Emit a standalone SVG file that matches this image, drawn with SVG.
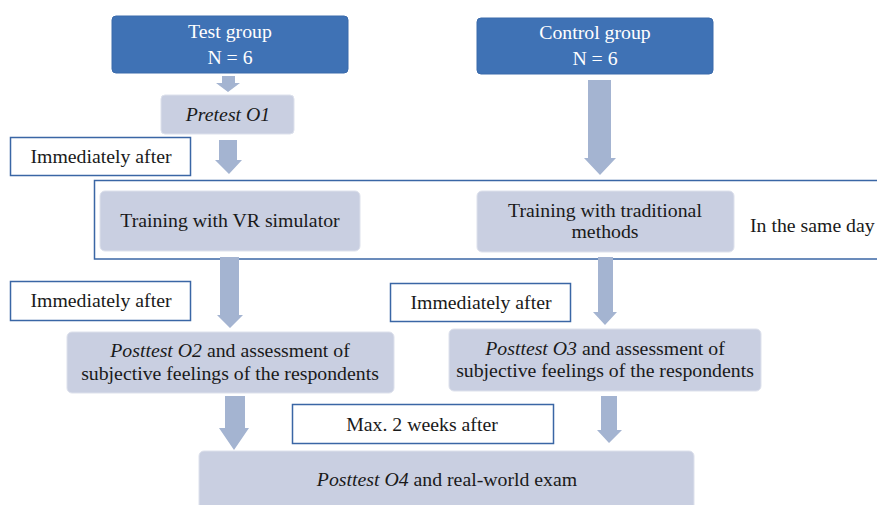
<svg xmlns="http://www.w3.org/2000/svg" width="877" height="505" viewBox="0 0 877 505">
<style>
.t{fill:#1a1a1a;text-anchor:middle}
.dark{fill:#3f72b5;stroke:#3a6aab;stroke-width:1}
.w{fill:#ffffff;text-anchor:middle}
.light{fill:#c9cfe1;stroke:#dde1ec;stroke-width:1}
.note{fill:#ffffff;stroke:#3a66a5;stroke-width:1.5}
.arr{fill:#a4b4d1}
.st{fill:#1a1a1a;text-anchor:start}
</style>
<rect x="0" y="0" width="877" height="505" fill="#ffffff"/>
<g id="container"><rect x="94.5" y="180.5" width="800" height="78.5" fill="none" stroke="#3a66a5" stroke-width="1.5"/></g>
<g id="connectors">
<polygon class="arr" points="222,76 235,76 235,83 240,83 228,92 216,83 222,83"/>
<polygon class="arr" points="219,140 237,140 237,160 242,160 229,174 215,160 219,160"/>
<polygon class="arr" points="588,80 611,80 611,158 616,158 600,175 584,158 588,158"/>
<polygon class="arr" points="220,257 239,257 239,315 243,315 230,328 217,315 220,315"/>
<polygon class="arr" points="598,257 613,257 613,312 617,312 605,325 593,312 598,312"/>
<polygon class="arr" points="225,396 245,396 245,428 249,428 234,450 219,428 225,428"/>
<polygon class="arr" points="601,396 617,396 617,430 622,430 609,443 597,430 601,430"/>
</g>
<g id="test"><rect class="dark" x="112" y="16" width="236" height="57" rx="4"/><text class="w" x="230" y="38" font-family="Liberation Serif" font-size="19.8">Test group</text><text class="w" x="230" y="64" font-family="Liberation Serif" font-size="19.8">N = 6</text></g>
<g id="control"><rect class="dark" x="477" y="18" width="236" height="56" rx="4"/><text class="w" x="595" y="39" font-family="Liberation Serif" font-size="19.8">Control group</text><text class="w" x="595" y="65" font-family="Liberation Serif" font-size="19.8">N = 6</text></g>
<g id="pretest"><rect class="light" x="161" y="95" width="133" height="39" rx="4"/><text class="t" x="228" y="121" font-family="Liberation Serif" font-size="19.8" font-style="italic">Pretest O1</text></g>
<g id="imm1"><rect class="note" x="10.5" y="137.5" width="180" height="38"/><text class="t" x="101" y="163" font-family="Liberation Serif" font-size="19.8">Immediately after</text></g>
<g id="vr"><rect class="light" x="100" y="191" width="260" height="60" rx="5"/><text class="t" x="230" y="227" font-family="Liberation Serif" font-size="19.8">Training with VR simulator</text></g>
<g id="trad"><rect class="light" x="477" y="191" width="257" height="61" rx="5"/><text class="t" x="605" y="217" font-family="Liberation Serif" font-size="19.8">Training with traditional</text><text class="t" x="605" y="238" font-family="Liberation Serif" font-size="19.8">methods</text></g>
<g id="sameday"><text class="st" x="750" y="232" font-family="Liberation Serif" font-size="19.8">In the same day</text></g>
<g id="imm2"><rect class="note" x="10.5" y="281.5" width="180" height="39"/><text class="t" x="101" y="307" font-family="Liberation Serif" font-size="19.8">Immediately after</text></g>
<g id="imm3"><rect class="note" x="390.5" y="283.5" width="180" height="38"/><text class="t" x="481" y="309" font-family="Liberation Serif" font-size="19.8">Immediately after</text></g>
<g id="o2"><rect class="light" x="67" y="332" width="327" height="61" rx="5"/><text class="t" x="230" y="357" font-family="Liberation Serif" font-size="19.8"><tspan font-style="italic">Posttest O2</tspan> and assessment of</text><text class="t" x="230" y="380" font-family="Liberation Serif" font-size="19.8">subjective feelings of the respondents</text></g>
<g id="o3"><rect class="light" x="449" y="329" width="312" height="62" rx="5"/><text class="t" x="605" y="355" font-family="Liberation Serif" font-size="19.8"><tspan font-style="italic">Posttest O3</tspan> and assessment of</text><text class="t" x="605" y="377" font-family="Liberation Serif" font-size="19.8">subjective feelings of the respondents</text></g>
<g id="max"><rect class="note" x="292.5" y="404.5" width="261" height="39"/><text class="t" x="422" y="431" font-family="Liberation Serif" font-size="19.8">Max. 2 weeks after</text></g>
<g id="o4"><rect class="light" x="199" y="451" width="495" height="70" rx="5"/><text class="t" x="447" y="486" font-family="Liberation Serif" font-size="19.8"><tspan font-style="italic">Posttest O4</tspan> and real-world exam</text></g>
</svg>
